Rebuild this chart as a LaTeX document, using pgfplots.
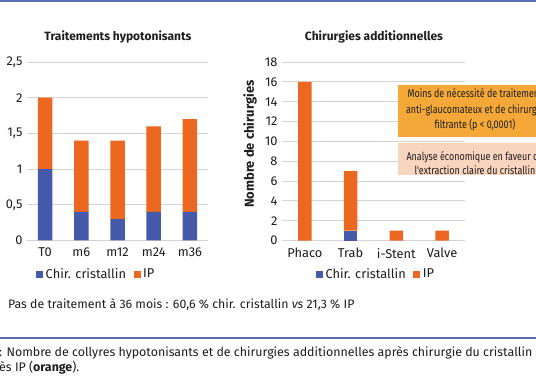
\documentclass[border=0pt]{standalone}
\usepackage{fontspec}
\setmainfont{Fira Sans}
\newfontfamily\condfont[FakeStretch=0.8]{Fira Sans}
\usepackage{pgfplots}
\pgfplotsset{compat=1.18}
\definecolor{cblue}{RGB}{69,90,170}
\definecolor{corange}{RGB}{236,104,32}
\definecolor{boxor}{RGB}{244,168,56}
\definecolor{boxpe}{RGB}{249,212,190}
\definecolor{ruleblue}{RGB}{92,110,180}
\definecolor{gridc}{RGB}{212,212,212}
\definecolor{txt}{RGB}{30,30,30}
\pgfplotsset{
  mystyle/.style={
    scale only axis, anchor=south west,
    ybar stacked,
    ymin=0,
    axis line style={draw=none},
    tick style={draw=none}, major tick length=0pt,
    ymajorgrids, grid style={gridc, line width=0.9pt},
    /pgf/number format/assume math mode=true,
    ticklabel style={font=\fontsize{12.8}{14}\selectfont, text=txt},
    xticklabel style={yshift=-4pt},
    yticklabel style={xshift=-1pt},
    legend columns=2,
    legend style={draw=none, fill=none, font=\fontsize{12.8}{14}\selectfont, text=txt,
      anchor=west, inner sep=0pt, nodes={inner xsep=2.5pt, inner ysep=0pt}},
    legend image code/.code={\fill[##1] (0pt,-3.5pt) rectangle (7pt,3.5pt);},
  }
}
\begin{document}
\begin{tikzpicture}[x=1pt,y=1pt]
\useasboundingbox (0,0) rectangle (536,386);
\fill[white] (0,0) rectangle (536,386);
\clip (0,0) rectangle (536,386);
% top and separator rules
\fill[ruleblue] (0,384) rectangle (536,386.5);
\fill[ruleblue] (0,47) rectangle (536,48.5);

\begin{axis}[mystyle,
  at={(27pt,145.5pt)}, width=181pt, height=178.5pt,
  bar width=14.5pt,
  xmin=-0.5, xmax=4.5, ymax=2.5,
  xtick={0,1,2,3,4}, xticklabels={T0,m6,m12,m24,m36},
  ytick={0,0.5,1,1.5,2,2.5}, yticklabels={0,{0,5},1,{1,5},2,{2,5}},
  legend style={at={(axis description cs:0.05,-0.188)}},
]
\addplot[fill=cblue, draw=none] coordinates {(0,1.0) (1,0.4) (2,0.3) (3,0.4) (4,0.4)};
\addplot[fill=corange, draw=none] coordinates {(0,1.0) (1,1.0) (2,1.1) (3,1.2) (4,1.3)};
\legend{Chir. cristallin\hspace*{5pt}, IP}
\end{axis}

\begin{axis}[mystyle,
  at={(282pt,145.5pt)}, width=183pt, height=178.5pt,
  bar width=13.5pt,
  xmin=-0.5, xmax=3.5, ymax=18,
  xtick={0,1,2,3}, xticklabels={Phaco,Trab,i-Stent,Valve},
  ytick={0,2,4,6,8,10,12,14,16,18},
  ylabel={\bfseries Nombre de chirurgies},
  ylabel style={at={(axis description cs:-0.175,0.54)}, anchor=center, font=\fontsize{13}{15}\selectfont, text=txt},
  legend style={at={(axis description cs:0.185,-0.188)}},
]
\addplot[fill=cblue, draw=none] coordinates {(0,0) (1,1) (2,0) (3,0)};
\addplot[fill=corange, draw=none] coordinates {(0,16) (1,6) (2,1) (3,1)};
\legend{Chir. cristallin\hspace*{5pt}, IP}
\end{axis}

% titles
\node[font=\fontsize{12}{14}\selectfont\bfseries, text=txt] at (118,349) {Traitements hypotonisants};
\node[font=\fontsize{12}{14}\selectfont\bfseries, text=txt] at (374,349) {Chirurgies additionnelles};

% boxes
\fill[boxor] (398,249) rectangle (560,301);
\fill[boxpe] (398,211) rectangle (560,243);
\begin{scope}[every node/.style={font=\condfont\fontsize{11.2}{13}\selectfont, text=txt, inner sep=0pt}]
\node at (475,293) {Moins de nécessité de traitement};
\node at (475,276) {anti-glaucomateux et de chirurgie};
\node at (475,261) {filtrante (p < 0,0001)};
\node at (475,229) {Analyse économique en faveur de};
\node at (475,216) {l'extraction claire du cristallin};
\end{scope}

% bottom text
\node[anchor=west, font=\fontsize{12.3}{14}\selectfont, text=txt, inner sep=0pt] at (8,81) {Pas de traitement à 36 mois : 60,6 \% chir. cristallin \textit{vs} 21,3 \% IP};
\node[anchor=west, font=\fontsize{12.4}{14}\selectfont, text=txt, inner sep=0pt] at (-1,33) {: Nombre de collyres hypotonisants et de chirurgies additionnelles après chirurgie du cristallin};
\node[anchor=west, font=\fontsize{12.4}{14}\selectfont, text=txt, inner sep=0pt] at (-1,18.5) {ès IP (\textbf{orange}).};
\end{tikzpicture}
\end{document}
